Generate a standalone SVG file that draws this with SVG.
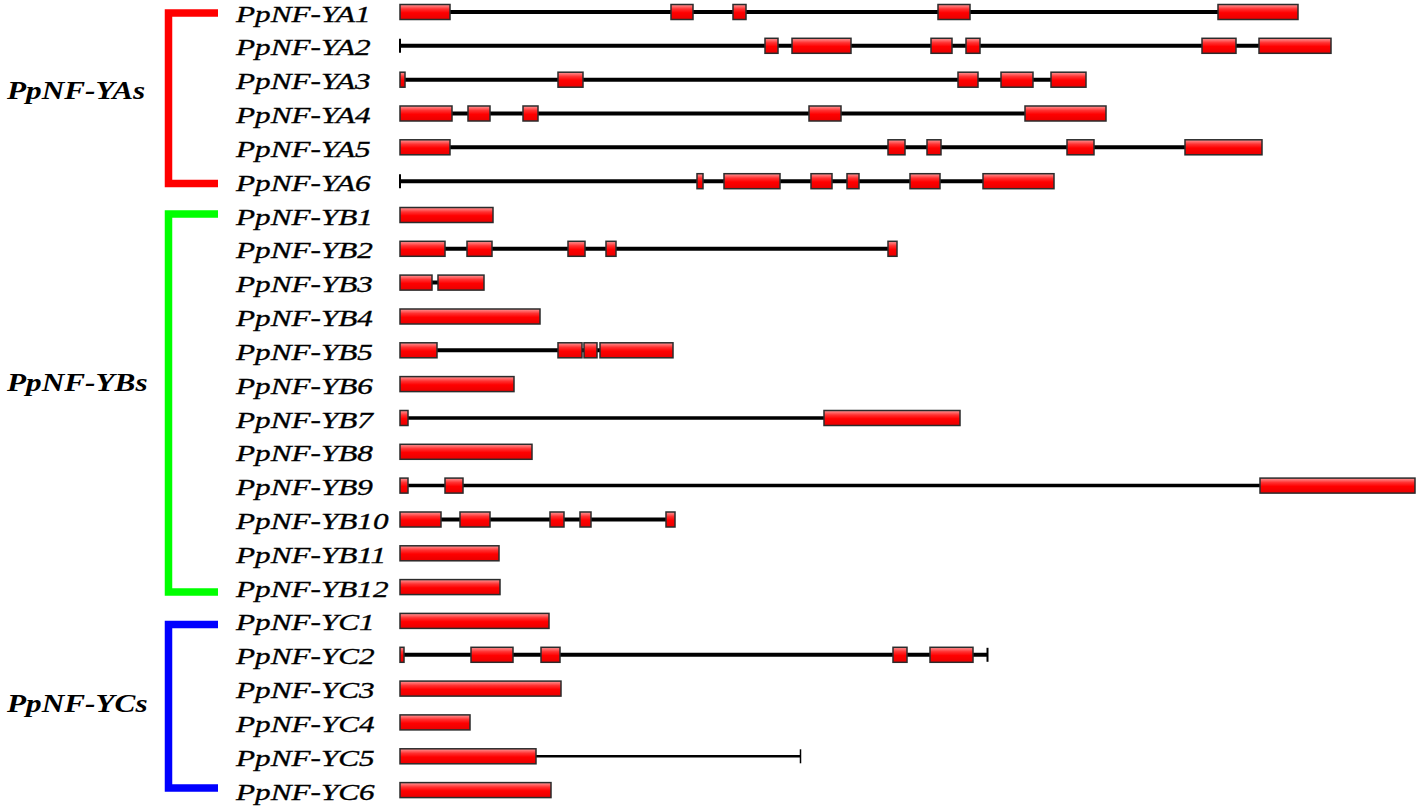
<svg xmlns="http://www.w3.org/2000/svg" width="1418" height="809" viewBox="0 0 1418 809">
<style>
.lbl{font-family:"Liberation Serif","Times New Roman",serif;font-style:italic;font-size:24px;fill:#000;stroke:#000;stroke-width:0.35}
.grp{font-family:"Liberation Serif","Times New Roman",serif;font-style:italic;font-weight:bold;font-size:25px;fill:#000}
.ex{fill:url(#exg);stroke:#2b2b2b;stroke-width:1.5}
.in{stroke:#000;stroke-width:4;fill:none}
.tk{stroke:#000;stroke-width:2;fill:none}
.br{fill:none;stroke-width:7.5;stroke-linecap:butt;stroke-linejoin:miter}
</style>
<defs>
<linearGradient id="exg" x1="0" y1="0" x2="0" y2="1">
<stop offset="0" stop-color="#ff9a9a"/>
<stop offset="0.3" stop-color="#ff3030"/>
<stop offset="0.55" stop-color="#ff0000"/>
<stop offset="1" stop-color="#e80000"/>
</linearGradient>
</defs>
<rect width="1418" height="809" fill="#fff"/>
<g id="connectors">
<path class="br" stroke="#ff0000" d="M218,13 H168.5 V183.5 H218"/>
<path class="br" stroke="#00ff00" d="M218,214 H168.5 V592 H218"/>
<path class="br" stroke="#0000ff" d="M218,624.5 H168.5 V788 H218"/>
</g>
<g id="group-labels">
<text class="grp" transform="translate(7,99) scale(1.25,1)">PpNF-YAs</text>
<text class="grp" transform="translate(7,391) scale(1.25,1)">PpNF-YBs</text>
<text class="grp" transform="translate(7,712) scale(1.25,1)">PpNF-YCs</text>
</g>
<g id="YA1" transform="translate(0,12)"><text class="lbl" transform="translate(236,9.5) scale(1.3,1)">PpNF-YA1</text>
<line class="in" x1="400" y1="0" x2="1298" y2="0"/>
<rect class="ex" x="400" y="-7.5" width="50" height="15"/><rect class="ex" x="671" y="-7.5" width="22" height="15"/><rect class="ex" x="733" y="-7.5" width="13" height="15"/><rect class="ex" x="938" y="-7.5" width="32" height="15"/><rect class="ex" x="1218" y="-7.5" width="80" height="15"/></g>
<g id="YA2" transform="translate(0,45.8)"><text class="lbl" transform="translate(236,9.5) scale(1.3,1)">PpNF-YA2</text>
<line class="in" x1="400" y1="0" x2="1331" y2="0"/><line class="tk" x1="400" y1="-7" x2="400" y2="7"/>
<rect class="ex" x="765" y="-7.5" width="13" height="15"/><rect class="ex" x="792" y="-7.5" width="59" height="15"/><rect class="ex" x="931" y="-7.5" width="21" height="15"/><rect class="ex" x="966" y="-7.5" width="14" height="15"/><rect class="ex" x="1202" y="-7.5" width="34" height="15"/><rect class="ex" x="1259" y="-7.5" width="72" height="15"/></g>
<g id="YA3" transform="translate(0,79.7)"><text class="lbl" transform="translate(236,9.5) scale(1.3,1)">PpNF-YA3</text>
<line class="in" x1="400" y1="0" x2="1086" y2="0"/>
<rect class="ex" x="400" y="-7.5" width="5" height="15"/><rect class="ex" x="558" y="-7.5" width="25" height="15"/><rect class="ex" x="958" y="-7.5" width="20" height="15"/><rect class="ex" x="1001" y="-7.5" width="32" height="15"/><rect class="ex" x="1051" y="-7.5" width="35" height="15"/></g>
<g id="YA4" transform="translate(0,113.5)"><text class="lbl" transform="translate(236,9.5) scale(1.3,1)">PpNF-YA4</text>
<line class="in" x1="400" y1="0" x2="1106" y2="0"/>
<rect class="ex" x="400" y="-7.5" width="52" height="15"/><rect class="ex" x="468" y="-7.5" width="22" height="15"/><rect class="ex" x="523" y="-7.5" width="15" height="15"/><rect class="ex" x="809" y="-7.5" width="32" height="15"/><rect class="ex" x="1025" y="-7.5" width="81" height="15"/></g>
<g id="YA5" transform="translate(0,147.3)"><text class="lbl" transform="translate(236,9.5) scale(1.3,1)">PpNF-YA5</text>
<line class="in" x1="400" y1="0" x2="1262" y2="0"/>
<rect class="ex" x="400" y="-7.5" width="50" height="15"/><rect class="ex" x="888" y="-7.5" width="17" height="15"/><rect class="ex" x="927" y="-7.5" width="14" height="15"/><rect class="ex" x="1067" y="-7.5" width="27" height="15"/><rect class="ex" x="1185" y="-7.5" width="77" height="15"/></g>
<g id="YA6" transform="translate(0,181.2)"><text class="lbl" transform="translate(236,9.5) scale(1.3,1)">PpNF-YA6</text>
<line class="in" x1="400" y1="0" x2="1054" y2="0"/><line class="tk" x1="400" y1="-7" x2="400" y2="7"/>
<rect class="ex" x="697" y="-7.5" width="6" height="15"/><rect class="ex" x="724" y="-7.5" width="56" height="15"/><rect class="ex" x="811" y="-7.5" width="21" height="15"/><rect class="ex" x="847" y="-7.5" width="12" height="15"/><rect class="ex" x="910" y="-7.5" width="30" height="15"/><rect class="ex" x="983" y="-7.5" width="71" height="15"/></g>
<g id="YB1" transform="translate(0,215)"><text class="lbl" transform="translate(236,9.5) scale(1.3,1)">PpNF-YB1</text>
<rect class="ex" x="400" y="-7.5" width="93" height="15"/></g>
<g id="YB2" transform="translate(0,248.8)"><text class="lbl" transform="translate(236,9.5) scale(1.3,1)">PpNF-YB2</text>
<line class="in" x1="400" y1="0" x2="897" y2="0"/>
<rect class="ex" x="400" y="-7.5" width="45" height="15"/><rect class="ex" x="467" y="-7.5" width="25" height="15"/><rect class="ex" x="568" y="-7.5" width="17" height="15"/><rect class="ex" x="606" y="-7.5" width="10" height="15"/><rect class="ex" x="888" y="-7.5" width="9" height="15"/></g>
<g id="YB3" transform="translate(0,282.6)"><text class="lbl" transform="translate(236,9.5) scale(1.3,1)">PpNF-YB3</text>
<line class="in" x1="400" y1="0" x2="484" y2="0"/>
<rect class="ex" x="400" y="-7.5" width="32" height="15"/><rect class="ex" x="438" y="-7.5" width="46" height="15"/></g>
<g id="YB4" transform="translate(0,316.5)"><text class="lbl" transform="translate(236,9.5) scale(1.3,1)">PpNF-YB4</text>
<rect class="ex" x="400" y="-7.5" width="140" height="15"/></g>
<g id="YB5" transform="translate(0,350.3)"><text class="lbl" transform="translate(236,9.5) scale(1.3,1)">PpNF-YB5</text>
<line class="in" x1="400" y1="0" x2="673" y2="0"/>
<rect class="ex" x="400" y="-7.5" width="37" height="15"/><rect class="ex" x="558" y="-7.5" width="24" height="15"/><rect class="ex" x="584" y="-7.5" width="13" height="15"/><rect class="ex" x="600" y="-7.5" width="73" height="15"/></g>
<g id="YB6" transform="translate(0,384.1)"><text class="lbl" transform="translate(236,9.5) scale(1.3,1)">PpNF-YB6</text>
<rect class="ex" x="400" y="-7.5" width="114" height="15"/></g>
<g id="YB7" transform="translate(0,418)"><text class="lbl" transform="translate(236,9.5) scale(1.3,1)">PpNF-YB7</text>
<line class="in" x1="400" y1="0" x2="960" y2="0" style="stroke-width:3.5"/>
<rect class="ex" x="400" y="-7.5" width="8" height="15"/><rect class="ex" x="824" y="-7.5" width="136" height="15"/></g>
<g id="YB8" transform="translate(0,451.8)"><text class="lbl" transform="translate(236,9.5) scale(1.3,1)">PpNF-YB8</text>
<rect class="ex" x="400" y="-7.5" width="132" height="15"/></g>
<g id="YB9" transform="translate(0,485.6)"><text class="lbl" transform="translate(236,9.5) scale(1.3,1)">PpNF-YB9</text>
<line class="in" x1="400" y1="0" x2="1415" y2="0" style="stroke-width:3.5"/>
<rect class="ex" x="400" y="-7.5" width="8" height="15"/><rect class="ex" x="445" y="-7.5" width="18" height="15"/><rect class="ex" x="1260" y="-7.5" width="155" height="15"/></g>
<g id="YB10" transform="translate(0,519.5)"><text class="lbl" transform="translate(236,9.5) scale(1.3,1)">PpNF-YB10</text>
<line class="in" x1="400" y1="0" x2="675" y2="0"/>
<rect class="ex" x="400" y="-7.5" width="41" height="15"/><rect class="ex" x="460" y="-7.5" width="30" height="15"/><rect class="ex" x="550" y="-7.5" width="14" height="15"/><rect class="ex" x="580" y="-7.5" width="11" height="15"/><rect class="ex" x="666" y="-7.5" width="9" height="15"/></g>
<g id="YB11" transform="translate(0,553.3)"><text class="lbl" transform="translate(236,9.5) scale(1.3,1)">PpNF-YB11</text>
<rect class="ex" x="400" y="-7.5" width="99" height="15"/></g>
<g id="YB12" transform="translate(0,587.1)"><text class="lbl" transform="translate(236,9.5) scale(1.3,1)">PpNF-YB12</text>
<rect class="ex" x="400" y="-7.5" width="100" height="15"/></g>
<g id="YC1" transform="translate(0,620.9)"><text class="lbl" transform="translate(236,9.5) scale(1.3,1)">PpNF-YC1</text>
<rect class="ex" x="400" y="-7.5" width="149" height="15"/></g>
<g id="YC2" transform="translate(0,654.8)"><text class="lbl" transform="translate(236,9.5) scale(1.3,1)">PpNF-YC2</text>
<line class="in" x1="400" y1="0" x2="988" y2="0"/><line class="tk" x1="987.5" y1="-7" x2="987.5" y2="7"/>
<rect class="ex" x="400" y="-7.5" width="4" height="15"/><rect class="ex" x="471" y="-7.5" width="42" height="15"/><rect class="ex" x="541" y="-7.5" width="19" height="15"/><rect class="ex" x="893" y="-7.5" width="14" height="15"/><rect class="ex" x="930" y="-7.5" width="43" height="15"/></g>
<g id="YC3" transform="translate(0,688.6)"><text class="lbl" transform="translate(236,9.5) scale(1.3,1)">PpNF-YC3</text>
<rect class="ex" x="400" y="-7.5" width="161" height="15"/></g>
<g id="YC4" transform="translate(0,722.4)"><text class="lbl" transform="translate(236,9.5) scale(1.3,1)">PpNF-YC4</text>
<rect class="ex" x="400" y="-7.5" width="70" height="15"/></g>
<g id="YC5" transform="translate(0,756.3)"><text class="lbl" transform="translate(236,9.5) scale(1.3,1)">PpNF-YC5</text>
<line class="in" x1="530" y1="0" x2="801" y2="0" style="stroke-width:2.5"/><line class="tk" x1="800.5" y1="-7" x2="800.5" y2="7" style="stroke-width:1.5"/>
<rect class="ex" x="400" y="-7.5" width="136" height="15"/></g>
<g id="YC6" transform="translate(0,790.1)"><text class="lbl" transform="translate(236,9.5) scale(1.3,1)">PpNF-YC6</text>
<rect class="ex" x="400" y="-7.5" width="151" height="15"/></g>
</svg>
